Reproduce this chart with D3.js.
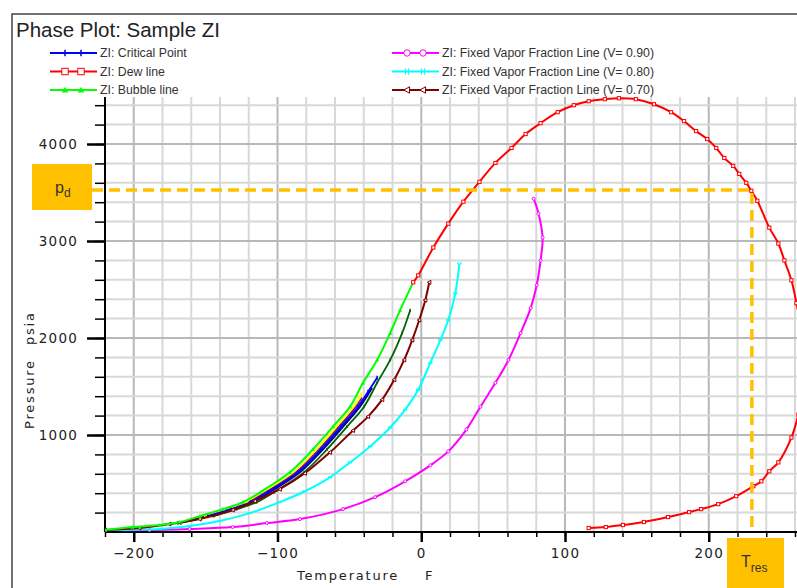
<!DOCTYPE html>
<html>
<head>
<meta charset="utf-8">
<script src="https://cdn.jsdelivr.net/npm/d3@7"></script>
<style>
  body { margin: 0; background: #fff; }
  svg { display: block; }
</style>
</head>
<body>
<svg id="chart" width="797" height="588"></svg>
<script>
// Values, as [temperature F, pressure psia]
const dewLine = [[-5.6,2574],[-2.1,2646],[8.4,2933],[18.8,3179],[29.3,3405],[40.5,3610],[51.6,3805],[62.8,3959],[72.6,4103],[83.0,4215],[94.9,4328],[106.1,4400],[116.5,4441],[127.7,4462],[137.5,4472],[149.3,4462],[161.9,4410],[173.8,4328],[182.8,4236],[191.2,4133],[198.9,4051],[205.2,3959],[210.8,3856],[217.0,3774],[221.2,3692],[226.1,3600],[229.6,3518],[233.8,3415],[242.1,3138],[248.4,2974],[252.6,2800],[257.5,2595],[261.0,2359],[263.8,2133],[265.9,1877],[266.6,1620],[265.2,1364],[262.4,1210],[257.5,974],[248.4,718],[242.1,626],[236.6,523],[231.0,472],[219.1,369],[206.6,287],[194.7,236],[186.3,205],[171.7,154],[154.9,103],[140.3,72],[128.4,51],[116.5,41]];
const bubbleLine = [[-220,20],[-201,51],[-182,72],[-168,103],[-154,164],[-138,236],[-124,308],[-112,410],[-91.4,615],[-75.4,851],[-61.4,1087],[-49.5,1292],[-40.5,1538],[-30.7,1774],[-21.6,2051],[-14.7,2287],[-5.6,2574]];
const criticalLine = [[-148.6,164],[-132.6,236],[-118.6,308],[-106.8,410],[-85.8,615],[-69.8,851],[-55.8,1087],[-44.0,1292],[-37.0,1446],[-30.7,1590]];
const vf90 = [[-220,20],[-189,20],[-161.2,31],[-131.2,51],[-107.5,92],[-84.4,133],[-54.4,236],[-32.1,359],[-11.2,523],[6.3,687],[18.8,831],[31.4,1056],[41.2,1292],[51.6,1538],[60.7,1774],[69.1,2051],[76.1,2308],[80.3,2544],[83.0,2800],[84.4,3036],[81.6,3282],[78.2,3436]];
const vf80 = [[-220,20],[-182.1,31],[-161.2,62],[-140.3,113],[-119.3,195],[-98.4,308],[-81.0,420],[-63.5,564],[-49.5,718],[-35.6,882],[-21.6,1077],[-11.2,1262],[-2.1,1467],[6.3,1744],[13.3,1979],[18.8,2185],[23.7,2462],[26.5,2769]];
const vf70 = [[-220,20],[-196.1,41],[-175.2,82],[-154.2,133],[-131.2,226],[-115.8,318],[-98.4,441],[-81.0,605],[-63.5,821],[-47.5,1046],[-37.0,1190],[-27.2,1364],[-18.8,1569],[-11.9,1774],[-6.3,1979],[-1.4,2185],[2.8,2390],[5.6,2574]];
// other unlabelled lines in the cluster
const navyLine = [[-117.2,308],[-105.4,410],[-84.4,615],[-68.4,851],[-54.4,1087],[-42.6,1292],[-34.2,1487]];
const yellowLine = [[-151.4,164],[-135.4,236],[-121.4,308],[-109.6,410],[-88.6,615],[-72.6,851],[-58.6,1087],[-46.8,1292],[-41.2,1436]];
const purpleLine = [[-120.0,308],[-108.2,410],[-87.2,615],[-71.2,851],[-57.2,1087],[-45.4,1292],[-41.2,1385]];
const darkGreenLine = [[-144.5,164],[-128.4,236],[-114.4,308],[-102.6,410],[-81.6,615],[-65.6,851],[-51.6,1087],[-39.8,1292],[-30.7,1538],[-21.6,1774],[-13.3,2051],[-7.7,2287]];
const tealLine = [[-110,380],[-90,580],[-70,830],[-56,1060],[-45,1260],[-38,1400]];
const blackLine = [[-168.2,92],[-154.2,144],[-138.2,215],[-124.2,287],[-111.0,379]];

const resPoint = [230, 3526]; // T_res, p_d
const xMajor = [-200, -100, 0, 100, 200];
const yMajor = [1000, 2000, 3000, 4000];

const legendLeft = [
  { name: "ZI: Critical Point", color: "#0000ff", marker: "bar" },
  { name: "ZI: Dew line", color: "#ff0000", marker: "square" },
  { name: "ZI: Bubble line", color: "#00ff00", marker: "tri" }
];
const legendRight = [
  { name: "ZI: Fixed Vapor Fraction Line (V= 0.90)", color: "#ff00ff", marker: "circle" },
  { name: "ZI: Fixed Vapor Fraction Line (V= 0.80)", color: "#00ffff", marker: "hash" },
  { name: "ZI: Fixed Vapor Fraction Line (V= 0.70)", color: "#800000", marker: "ltri" }
];

const svg = d3.select("#chart");
const orange = "#ffc000";

const x = d3.scaleLinear().domain([-220, 280]).range([105, 823.75]);
const y = d3.scaleLinear().domain([0, 4500]).range([532, 95.5]);
const plotTop = 97;

// outer frame
svg.append("rect")
  .attr("x", 12).attr("y", 14).attr("width", 820).attr("height", 600)
  .attr("fill", "none").attr("stroke", "#444").attr("stroke-width", 1.5);

svg.append("text")
  .attr("x", 16).attr("y", 37)
  .style("font-family", "Liberation Sans, Arial")
  .style("font-size", "20.5px")
  .style("fill", "#222")
  .text("Phase Plot: Sample ZI");

// grid
const grid = svg.append("g");
d3.range(-200, 281, 20).forEach(t => {
  grid.append("line")
    .attr("x1", x(t)).attr("x2", x(t)).attr("y1", y(0)).attr("y2", plotTop)
    .attr("stroke", t % 100 === 0 ? "#b8b8b8" : "#d8d8d8").attr("stroke-width", 2);
});
d3.range(200, 4401, 200).forEach(p => {
  grid.append("line")
    .attr("x1", x(-220)).attr("x2", 800).attr("y1", y(p)).attr("y2", y(p))
    .attr("stroke", p % 1000 === 0 ? "#b8b8b8" : "#d8d8d8").attr("stroke-width", 2);
});

// axes
const tickFont = g => g.selectAll("text")
  .style("font-family", "DejaVu Sans")
  .style("font-size", "13.5px")
  .style("letter-spacing", "1.2px")
  .style("fill", "#222");

svg.append("g")
  .attr("transform", `translate(0,${y(0)})`)
  .call(d3.axisBottom(x).tickValues(d3.range(-220, 281, 20)).tickSize(5).tickFormat(""))
  .call(g => g.select(".domain").remove())
  .call(g => g.selectAll("line").attr("stroke", "#000").attr("stroke-width", 1.5));
svg.append("g")
  .attr("transform", `translate(0,${y(0)})`)
  .call(d3.axisBottom(x).tickValues(xMajor).tickSize(10).tickPadding(6))
  .call(g => g.select(".domain").remove())
  .call(g => g.selectAll("line").attr("stroke", "#000").attr("stroke-width", 2.5))
  .call(tickFont);
svg.append("line")
  .attr("x1", x(-220)).attr("x2", 800).attr("y1", y(0)).attr("y2", y(0))
  .attr("stroke", "#000").attr("stroke-width", 2);

svg.append("g")
  .attr("transform", `translate(${x(-220)},0)`)
  .call(d3.axisLeft(y).tickValues(d3.range(200, 4401, 200)).tickSize(10).tickFormat(""))
  .call(g => g.select(".domain").remove())
  .call(g => g.selectAll("line").attr("stroke", "#000").attr("stroke-width", 1.5));
svg.append("g")
  .attr("transform", `translate(${x(-220)},0)`)
  .call(d3.axisLeft(y).tickValues(yMajor).tickSize(18).tickPadding(9).tickFormat(d3.format("d")))
  .call(g => g.select(".domain").remove())
  .call(g => g.selectAll("line").attr("stroke", "#000").attr("stroke-width", 2.5))
  .call(tickFont);
svg.append("line")
  .attr("x1", x(-220)).attr("x2", x(-220)).attr("y1", y(0)).attr("y2", plotTop)
  .attr("stroke", "#000").attr("stroke-width", 2);

// axis titles
const labelStyle = s => s.style("font-family", "DejaVu Sans").style("font-size", "13px")
  .style("letter-spacing", "1.8px").style("fill", "#222");
svg.append("text").attr("x", 297).attr("y", 580).call(labelStyle).text("Temperature");
svg.append("text").attr("x", 425).attr("y", 580).call(labelStyle).text("F");
svg.append("text").attr("transform", "translate(34,429) rotate(-90)").call(labelStyle).text("Pressure");
svg.append("text").attr("transform", "translate(34,345) rotate(-90)").call(labelStyle).text("psia");

// markers
function marker(g, px, py, type, color, s) {
  if (type === "square") {
    g.append("rect").attr("x", px - s).attr("y", py - s).attr("width", 2 * s).attr("height", 2 * s)
      .attr("fill", "#fff").attr("stroke", color).attr("stroke-width", 1);
  } else if (type === "circle") {
    g.append("circle").attr("cx", px).attr("cy", py).attr("r", s)
      .attr("fill", "#fff").attr("stroke", color).attr("stroke-width", 1);
  } else if (type === "tri") {
    g.append("path").attr("d", `M${px},${py - s}L${px + s},${py + s * 0.8}L${px - s},${py + s * 0.8}Z`)
      .attr("fill", color);
  } else if (type === "ltri") {
    g.append("path").attr("d", `M${px - s},${py}L${px + s * 0.8},${py - s}L${px + s * 0.8},${py + s}Z`)
      .attr("fill", "#fff").attr("stroke", color).attr("stroke-width", 1);
  } else if (type === "bar") {
    g.append("line").attr("x1", px).attr("x2", px).attr("y1", py - s).attr("y2", py + s)
      .attr("stroke", color).attr("stroke-width", 1.5);
  } else if (type === "hash") {
    [-1.5, 1.5].forEach(o => g.append("line").attr("x1", px + o).attr("x2", px + o)
      .attr("y1", py - s).attr("y2", py + s).attr("stroke", color).attr("stroke-width", 1.2));
  } else if (type === "x") {
    g.append("path").attr("d", `M${px - s},${py - s}L${px + s},${py + s}M${px - s},${py + s}L${px + s},${py - s}`)
      .attr("stroke", color).attr("stroke-width", 1);
  }
}

svg.append("clipPath").attr("id", "plotClip")
  .append("rect").attr("x", x(-220)).attr("y", plotTop - 3).attr("width", 800).attr("height", y(0) - plotTop + 6);
const plot = svg.append("g").attr("clip-path", "url(#plotClip)");

const line = d3.line().x(d => x(d[0])).y(d => y(d[1])).curve(d3.curveCatmullRom.alpha(0.5));

const series = [
  { data: vf90, color: "#ff00ff", width: 2, marker: "circle", ms: 1.5 },
  { data: vf80, color: "#00ffff", width: 2, marker: "hash", ms: 1.2 },
  { data: blackLine, color: "#000000", width: 2, marker: "x", ms: 2 },
  { data: tealLine, color: "#3a9cc8", width: 2, marker: null },
  { data: yellowLine, color: "#ffff00", width: 2.5, marker: null },
  { data: purpleLine, color: "#800080", width: 1.5, marker: null },
  { data: darkGreenLine, color: "#006400", width: 1.8, marker: "bar", ms: 1.5 },
  { data: navyLine, color: "#000080", width: 1.8, marker: null },
  { data: criticalLine, color: "#0000ff", width: 1.8, marker: "bar", ms: 2 },
  { data: vf70, color: "#800000", width: 2, marker: "ltri", ms: 2 },
  { data: bubbleLine, color: "#00ff00", width: 2, marker: "tri", ms: 2 },
  { data: dewLine, color: "#ff0000", width: 2, marker: "square", ms: 1.6 }
];

series.forEach(s => {
  plot.append("path").datum(s.data).attr("d", line)
    .attr("fill", "none").attr("stroke", s.color).attr("stroke-width", s.width);
  if (s.marker) {
    const mg = plot.append("g");
    s.data.forEach(d => marker(mg, x(d[0]), y(d[1]), s.marker, s.color, s.ms));
  }
});

// legend
function legendRow(item, x0, yc) {
  const g = svg.append("g");
  g.append("line").attr("x1", x0).attr("x2", x0 + 47).attr("y1", yc).attr("y2", yc)
    .attr("stroke", item.color).attr("stroke-width", 2);
  marker(g, x0 + 15, yc, item.marker, item.color, 3.2);
  marker(g, x0 + 31, yc, item.marker, item.color, 3.2);
  g.append("text").attr("x", x0 + 50).attr("y", yc + 4)
    .style("font-family", "Liberation Sans, Arial").style("font-size", "12.3px").style("fill", "#333")
    .text(item.name);
}
legendLeft.forEach((d, i) => legendRow(d, 50, 53 + i * 18.5));
legendRight.forEach((d, i) => legendRow(d, 392, 53 + i * 18.5));

// reservoir condition guides
svg.append("path")
  .attr("d", `M${92},${y(resPoint[1])}H${x(resPoint[0])}V${y(0)}`)
  .attr("fill", "none").attr("stroke", orange).attr("stroke-width", 3.5)
  .attr("stroke-dasharray", "11,6");

svg.append("rect").attr("x", 32).attr("y", 164).attr("width", 60).attr("height", 46).attr("fill", orange);
const pd = svg.append("text").attr("x", 55).attr("y", 193)
  .style("font-family", "Liberation Sans, Arial").style("font-size", "16px").style("fill", "#333");
pd.append("tspan").text("p");
pd.append("tspan").attr("dy", 4).style("font-size", "12px").text("d");

svg.append("rect").attr("x", 727).attr("y", 538).attr("width", 57).attr("height", 60).attr("fill", orange);
const tr = svg.append("text").attr("x", 741).attr("y", 567)
  .style("font-family", "Liberation Sans, Arial").style("font-size", "16px").style("fill", "#333");
tr.append("tspan").text("T");
tr.append("tspan").attr("dy", 5).style("font-size", "12px").text("res");
</script>
</body>
</html>
